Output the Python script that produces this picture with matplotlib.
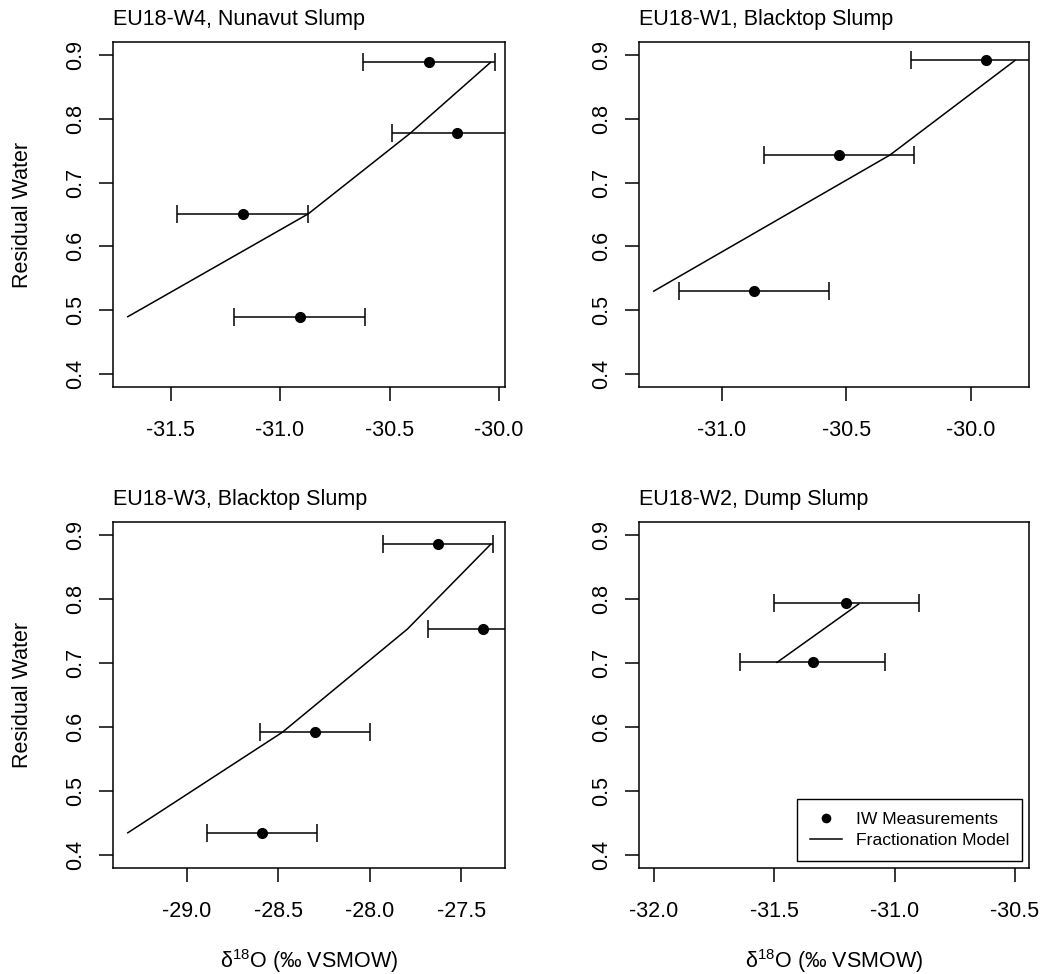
'''
Residual water vs d18O: IW measurements against the fractionation model, four slumps.
'''
import matplotlib
matplotlib.use("Agg")
import matplotlib.pyplot as plt
from matplotlib.ticker import FixedLocator, FormatStrFormatter, MultipleLocator

# Panel titles, in drawing order (top-left, top-right, bottom-left, bottom-right)
titles = [
  "EU18-W4, Nunavut Slump",
  "EU18-W1, Blacktop Slump",
  "EU18-W3, Blacktop Slump",
  "EU18-W2, Dump Slump",
]

# IW measurements: d18O (permil VSMOW) and residual water fraction
w4_iw_d18o = [-30.32, -30.19, -31.17, -30.91]
w4_iw_frac = [0.888, 0.777, 0.651, 0.490]
w1_iw_d18o = [-29.94, -30.53, -30.87]
w1_iw_frac = [0.892, 0.743, 0.530]
w3_iw_d18o = [-27.63, -27.38, -28.30, -28.59]
w3_iw_frac = [0.885, 0.753, 0.592, 0.435]
w2_iw_d18o = [-31.20, -31.34]
w2_iw_frac = [0.793, 0.701]

# Analytical uncertainty on d18O (error bar half-width)
iw_error = 0.3

# Fractionation model evaluated at the measured residual water fractions
w4_model_d18o = [-31.695, -30.871, -30.406, -30.039]
w4_model_frac = [0.490, 0.651, 0.777, 0.888]
w1_model_d18o = [-31.273, -30.325, -29.823]
w1_model_frac = [0.530, 0.743, 0.891]
w3_model_d18o = [-29.323, -28.478, -27.795, -27.341]
w3_model_frac = [0.435, 0.592, 0.753, 0.885]
w2_model_d18o = [-31.488, -31.149]
w2_model_frac = [0.701, 0.792]

# Axis ranges before R-style 4% padding (None = taken from the data)
y_range = (0.4, 0.9)
w2_x_range = (-32.0, -30.5)
y_ticks = [0.4, 0.5, 0.6, 0.7, 0.8, 0.9]

plt.rcParams["font.family"] = ["Liberation Sans", "DejaVu Sans"]
plt.rcParams["axes.unicode_minus"] = False
plt.rcParams["mathtext.fontset"] = "custom"
plt.rcParams["mathtext.rm"] = "Liberation Sans"
plt.rcParams["mathtext.it"] = "Liberation Sans:italic"
plt.rcParams["mathtext.bf"] = "Liberation Sans:bold"
plt.rcParams["mathtext.default"] = "rm"


# Pad a range by 4% on each side, the way R does by default
def r_range(lo: float, hi: float) -> tuple[float, float]:
  pad = 0.04 * (hi - lo)
  return lo - pad, hi + pad


def main() -> None:
  fig = plt.figure(figsize=(10.46, 9.74), dpi=100)

  # Axes rectangles in figure fractions
  rects = [
    [0.1083, 0.6027, 0.3745, 0.3542],
    [0.6112, 0.6027, 0.3729, 0.3542],
    [0.1083, 0.1088, 0.3745, 0.3552],
    [0.6112, 0.1088, 0.3729, 0.3552],
  ]

  panels = [
    (w4_iw_d18o, w4_iw_frac, w4_model_d18o, w4_model_frac, None),
    (w1_iw_d18o, w1_iw_frac, w1_model_d18o, w1_model_frac, None),
    (w3_iw_d18o, w3_iw_frac, w3_model_d18o, w3_model_frac, None),
    (w2_iw_d18o, w2_iw_frac, w2_model_d18o, w2_model_frac, w2_x_range),
  ]

  lw = 1.1
  fs = 15.5

  for i, (iw_x, iw_y, model_x, model_y, x_range) in enumerate(panels):
    ax = fig.add_axes(rects[i])

    # Error bars, points and the model curve
    ax.errorbar(iw_x, iw_y, xerr=iw_error, fmt="none", ecolor="black",
                elinewidth=lw, capsize=6.3, capthick=lw)
    ax.plot(iw_x, iw_y, "o", color="black", markersize=7, label="IW Measurements")
    ax.plot(model_x, model_y, "-", color="black", linewidth=lw, label="Fractionation Model")

    # Limits
    if x_range is None:
      all_x = list(iw_x) + list(model_x)
      x_range = (min(all_x), max(all_x))
    ax.set_xlim(*r_range(*x_range))
    ax.set_ylim(*r_range(*y_range))

    # Ticks
    ax.xaxis.set_major_locator(MultipleLocator(0.5))
    ax.xaxis.set_major_formatter(FormatStrFormatter("%.1f"))
    ax.yaxis.set_major_locator(FixedLocator(y_ticks))
    ax.yaxis.set_major_formatter(FormatStrFormatter("%.1f"))
    ax.tick_params(axis="both", direction="out", length=9.8, width=lw,
                   labelsize=fs, colors="black")
    ax.tick_params(axis="x", pad=14)
    ax.tick_params(axis="y", pad=10, labelrotation=90)
    for label in ax.get_yticklabels():
      label.set_va("center")
    for spine in ax.spines.values():
      spine.set_linewidth(lw)

    ax.set_title(titles[i], loc="left", fontsize=fs, pad=12)

    # Axis labels only on the outer panels
    if i % 2 == 0:
      ax.set_ylabel("Residual Water", fontsize=fs)
      ax.yaxis.set_label_coords(-0.206, 0.5)
    if i >= 2:
      ax.set_xlabel("δ$^{18}$O (‰ VSMOW)", fontsize=fs)
      ax.xaxis.set_label_coords(0.5, -0.228)

    # Legend only in the last panel
    if i == 3:
      legend = ax.legend(loc="lower right", fontsize=12.6, numpoints=1,
                         handlelength=1.8, handletextpad=0.8, borderpad=0.75,
                         labelspacing=0.3, borderaxespad=0.4, fancybox=False,
                         framealpha=1, edgecolor="black", markerscale=0.85)
      legend.get_frame().set_linewidth(1.0)

  fig.savefig("out.png", dpi=100)


if __name__ == "__main__":
  main()
